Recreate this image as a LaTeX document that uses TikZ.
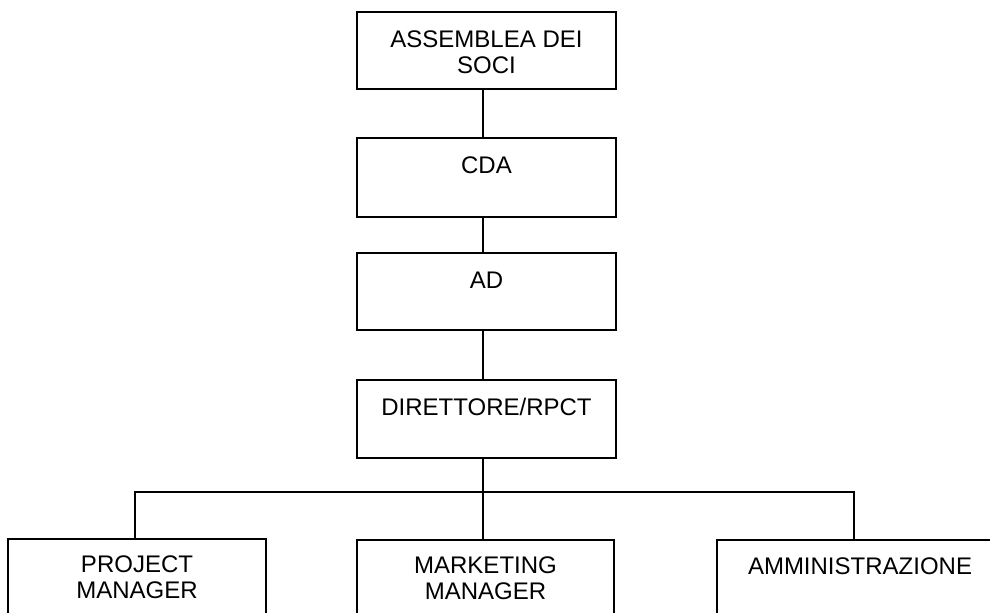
\documentclass[tikz,border=0pt]{standalone}
\usepackage{fontspec}
\setmainfont{Liberation Sans}
\newlength\px
\setlength\px{0.75pt}
\newcommand\bx[4]{\parbox[c][#2\px][t]{#1\px}{\centering\fontsize{18}{19.5}\selectfont\rule{0pt}{#3\px}#4}}
\begin{document}
\begin{tikzpicture}[x=0.75pt,y=-0.75pt,
  orgbox/.style={draw=black,line width=1.4pt,inner sep=0pt,outer sep=0pt,fill=white},
  conn/.style={draw=black,line width=1.4pt,line join=miter}]
\useasboundingbox[fill=white] (0,0) rectangle (990,612);
\node[orgbox] (soci) at (486.5,50.5) {\bx{259}{77}{35}{ASSEMBLEA DEI\\SOCI}};
\node[orgbox] (cda) at (486.5,177.5) {\bx{259}{79}{35}{CDA}};
\node[orgbox] (ad) at (486.5,291.5) {\bx{259}{77}{35}{AD}};
\node[orgbox] (dir) at (486.5,419) {\bx{259}{78}{35}{DIRETTORE/RPCT}};
\node[orgbox] (pm) at (137,584) {\bx{258}{90}{33}{PROJECT\\MANAGER}};
\node[orgbox] (mm) at (485.5,585) {\bx{257}{90}{33}{MARKETING\\MANAGER}};
\node[orgbox] (amm) at (860,585) {\bx{286}{90}{34}{AMMINISTRAZIONE}};
\coordinate (tx) at (483,0);
\coordinate (pl) at (135,492);
\coordinate (pr) at (854,492);
\draw[conn] (soci.south -| tx) -- (cda.north -| tx);
\draw[conn] (cda.south -| tx) -- (ad.north -| tx);
\draw[conn] (ad.south -| tx) -- (dir.north -| tx);
\draw[conn] (dir.south -| tx) -- (mm.north -| tx);
\draw[conn] (pm.north -| pl) -- (pl) -- (pr) -- (amm.north -| pr);
\end{tikzpicture}
\end{document}
